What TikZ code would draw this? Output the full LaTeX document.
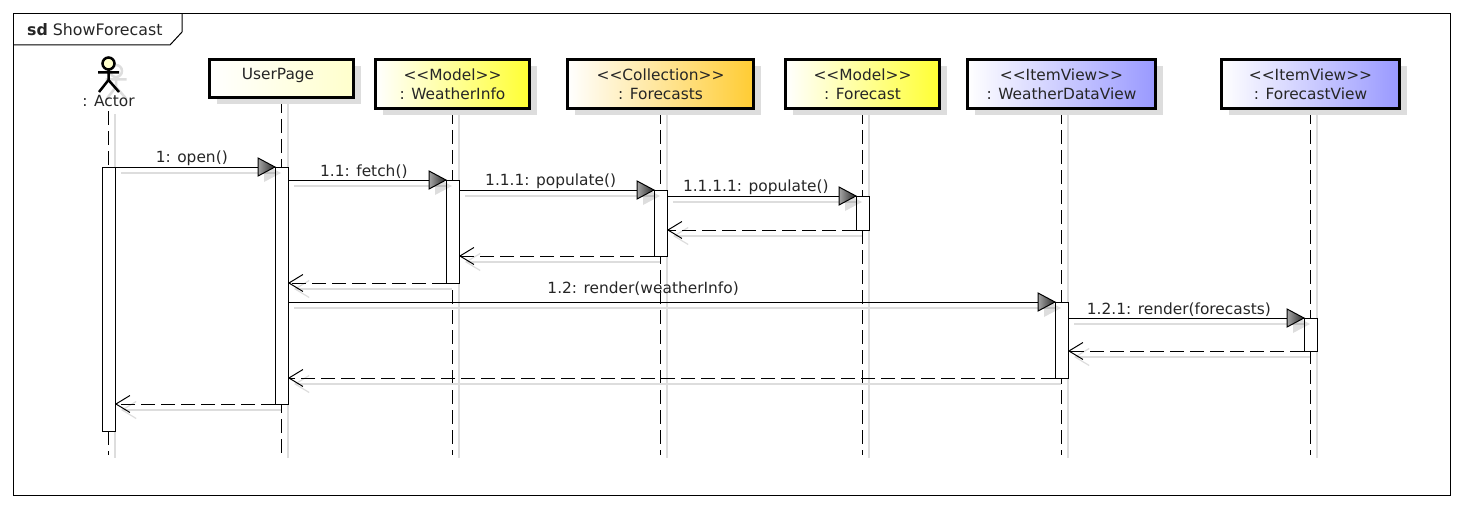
\documentclass[tikz,border=0pt]{standalone}
\usepackage{fontspec}
\setmainfont{DejaVu Sans}
\usetikzlibrary{arrows.meta}
\usetikzlibrary{backgrounds}
\usetikzlibrary{shadows}
\definecolor{shadowgray}{HTML}{DDDDDD}
\definecolor{userfill}{HTML}{FFFFCC}
\definecolor{modelfill}{HTML}{FFFF33}
\definecolor{collfill}{HTML}{FFCC33}
\definecolor{viewfill}{HTML}{9999FF}
\newcommand{\stereo}[1]{<\kern0pt<#1>\kern0pt>}
\tikzset{
    head/.style={draw,line width=3pt,anchor=north west,left color=white,align=center,font=\fontsize{15.4}{19}\selectfont,text=black!85,inner sep=0pt,
        drop shadow={shadow xshift=7pt,shadow yshift=-7pt,fill=shadowgray,opacity=1}},
    bar/.style={draw,fill=white,line width=1pt,anchor=north,minimum width=13pt,inner sep=0pt,outer sep=0pt},
    lifeline/.style={line width=1.3pt,dash pattern=on 14pt off 6pt},
    lifeshadow/.style={draw=shadowgray,line width=1.2pt,transform canvas={xshift=6.5pt,yshift=-3pt}},
    msg/.style={line width=1pt},
    ret/.style={line width=1pt,dash pattern=on 14pt off 6pt,-{Straight Barb[length=14pt,width=17pt]}},
    msgshadow/.style={draw=shadowgray,line width=1.2pt,transform canvas={xshift=6pt,yshift=-6pt}},
    retshadow/.style={msgshadow,-{Straight Barb[length=14pt,width=17pt]}},
    lbl/.style={font=\fontsize{15.4}{18}\selectfont,text=black!85,inner sep=0pt},
    synctip/.pic={
        \begin{scope}[blend mode=multiply]
        \fill[shadowgray] (6,6) -- (-11,-3) -- (-11,15) -- cycle;
        \end{scope}
        \shade[draw=black,line width=1pt,left color=black!35,right color=black!85] (0,0) -- (-17,-9) -- (-17,9) -- cycle;
    },
}
\begin{document}
\begin{tikzpicture}[x=1pt,y=-1pt]
    \useasboundingbox (0,0) rectangle (1464,508);
    \coordinate (lifeEnd) at (0,455);

    % frame
    \node[draw,line width=1pt,minimum width=1437pt,minimum height=482pt,anchor=north west,inner sep=0pt,outer sep=0pt] (frame) at (13.5,13.5) {};
    \node[lbl,anchor=west,font=\fontsize{15.8}{18}\selectfont] (frameName) at (27,30) {\textbf{sd} ShowForecast};
    \draw[line width=1pt] (frame.north west -| 182,0) -- (182,32) -- (170,45) -- (frame.west |- 0,45);

    % actor
    \begin{scope}[transform canvas={xshift=7.5pt,yshift=-7pt},draw=shadowgray,line width=2.5pt]
        \draw (108.5,70) -- (108.5,80) (98,72.5) -- (119,72.5) (99,92) -- (108.5,80) -- (119,92);
        \draw (108.5,64) circle (6);
    \end{scope}
    \draw[line width=2.5pt] (108.5,70) -- (108.5,80) (98,72.5) -- (119,72.5) (99,92) -- (108.5,80) -- (119,92);
    \draw[line width=2.5pt,fill=userfill] (108.5,63.5) circle (6);
    \node[lbl,minimum height=20pt] (actor) at (108.5,101) {: Actor};

    % lifeline heads
    \node[head,right color=userfill,minimum width=144pt,minimum height=38pt,text depth=10pt] (user) at (208,58) {\hspace*{-7pt}UserPage};
    \node[head,right color=modelfill,minimum width=154pt,minimum height=49pt] (info) at (374,58) {\stereo{Model}\\: WeatherInfo};
    \node[head,right color=collfill,minimum width=186pt,minimum height=49pt] (list) at (566,58) {\stereo{Collection}\\: Forecasts};
    \node[head,right color=modelfill,minimum width=154pt,minimum height=49pt] (item) at (784,58) {\stereo{Model}\\: Forecast};
    \node[head,right color=viewfill,minimum width=188pt,minimum height=49pt] (dataView) at (966,58) {\stereo{ItemView}\\: WeatherDataView};
    \node[head,right color=viewfill,minimum width=178pt,minimum height=49pt] (itemView) at (1220,58) {\stereo{ItemView}\\: ForecastView};

    % execution bars
    \node[bar,minimum height=264pt] (actorBar) at (actor.south |- 0,167) {};
    \node[bar,minimum height=237pt] (userBar) at (user.south |- 0,167) {};
    \node[bar,minimum height=103pt] (infoBar) at (info.south |- 0,180) {};
    \node[bar,minimum height=66pt] (listBar) at (list.south |- 0,190) {};
    \node[bar,minimum height=34pt] (itemBar) at (item.south |- 0,196) {};
    \node[bar,minimum height=76pt] (dataBar) at (dataView.south |- 0,302) {};
    \node[bar,minimum height=33pt] (viewBar) at (itemView.south |- 0,318) {};

    \begin{pgfonlayer}{background}
    \foreach \nm in {actor,user,info,list,item,dataView,itemView} {
        \draw[lifeshadow] (\nm.south) -- (\nm.south |- lifeEnd);
        \draw[lifeline] (\nm.south) -- (\nm.south |- lifeEnd);
    }
    % shadows of the calls
    \draw[msgshadow] (actorBar.north east) -- (userBar.north west);
    \draw[msgshadow] (userBar.east |- infoBar.north) -- (infoBar.north west);
    \draw[msgshadow] (infoBar.east |- listBar.north) -- (listBar.north west);
    \draw[msgshadow] (listBar.east |- itemBar.north) -- (itemBar.north west);
    \draw[msgshadow] (userBar.east |- dataBar.north) -- (dataBar.north west);
    \draw[msgshadow] (dataBar.east |- viewBar.north) -- (viewBar.north west);
    % shadows of the returns
    \draw[retshadow] (itemBar.south west) -- (listBar.east |- itemBar.south);
    \draw[retshadow] (listBar.south west) -- (infoBar.east |- listBar.south);
    \draw[retshadow] (infoBar.south west) -- (userBar.east |- infoBar.south);
    \draw[retshadow] (viewBar.south west) -- (dataBar.east |- viewBar.south);
    \draw[retshadow] (dataBar.south west) -- (userBar.east |- dataBar.south);
    \draw[retshadow] (userBar.south west) -- (actorBar.east |- userBar.south);
    \end{pgfonlayer}

    % calls
    \draw[msg] (actorBar.north east) -- (userBar.north west) pic[pos=1] {synctip}
        node[lbl,pos=0.48,above=1pt] (openLbl) {1: open()};
    \draw[msg] (userBar.east |- infoBar.north) -- (infoBar.north west) pic[pos=1] {synctip}
        node[lbl,pos=0.48,above=1pt] (fetchLbl) {1.1: fetch()};
    \draw[msg] (infoBar.east |- listBar.north) -- (listBar.north west) pic[pos=1] {synctip}
        node[lbl,pos=0.47,above=1pt] (popLbl) {1.1.1: populate()};
    \draw[msg] (listBar.east |- itemBar.north) -- (itemBar.north west) pic[pos=1] {synctip}
        node[lbl,pos=0.47,above=1pt] (subPopLbl) {1.1.1.1: populate()};
    \draw[msg] (userBar.east |- dataBar.north) -- (dataBar.north west) pic[pos=1] {synctip}
        node[lbl,pos=0.463,above=6pt] (renderLbl) {1.2: render(weatherInfo)};
    \draw[msg] (dataBar.east |- viewBar.north) -- (viewBar.north west) pic[pos=1] {synctip}
        node[lbl,pos=0.47,above=1pt] (subRenderLbl) {1.2.1: render(forecasts)};

    % returns
    \draw[ret] (itemBar.south west) -- (listBar.east |- itemBar.south);
    \draw[ret] (listBar.south west) -- (infoBar.east |- listBar.south);
    \draw[ret] (infoBar.south west) -- (userBar.east |- infoBar.south);
    \draw[ret] (viewBar.south west) -- (dataBar.east |- viewBar.south);
    \draw[ret] (dataBar.south west) -- (userBar.east |- dataBar.south);
    \draw[ret] (userBar.south west) -- (actorBar.east |- userBar.south);
\end{tikzpicture}
\end{document}
